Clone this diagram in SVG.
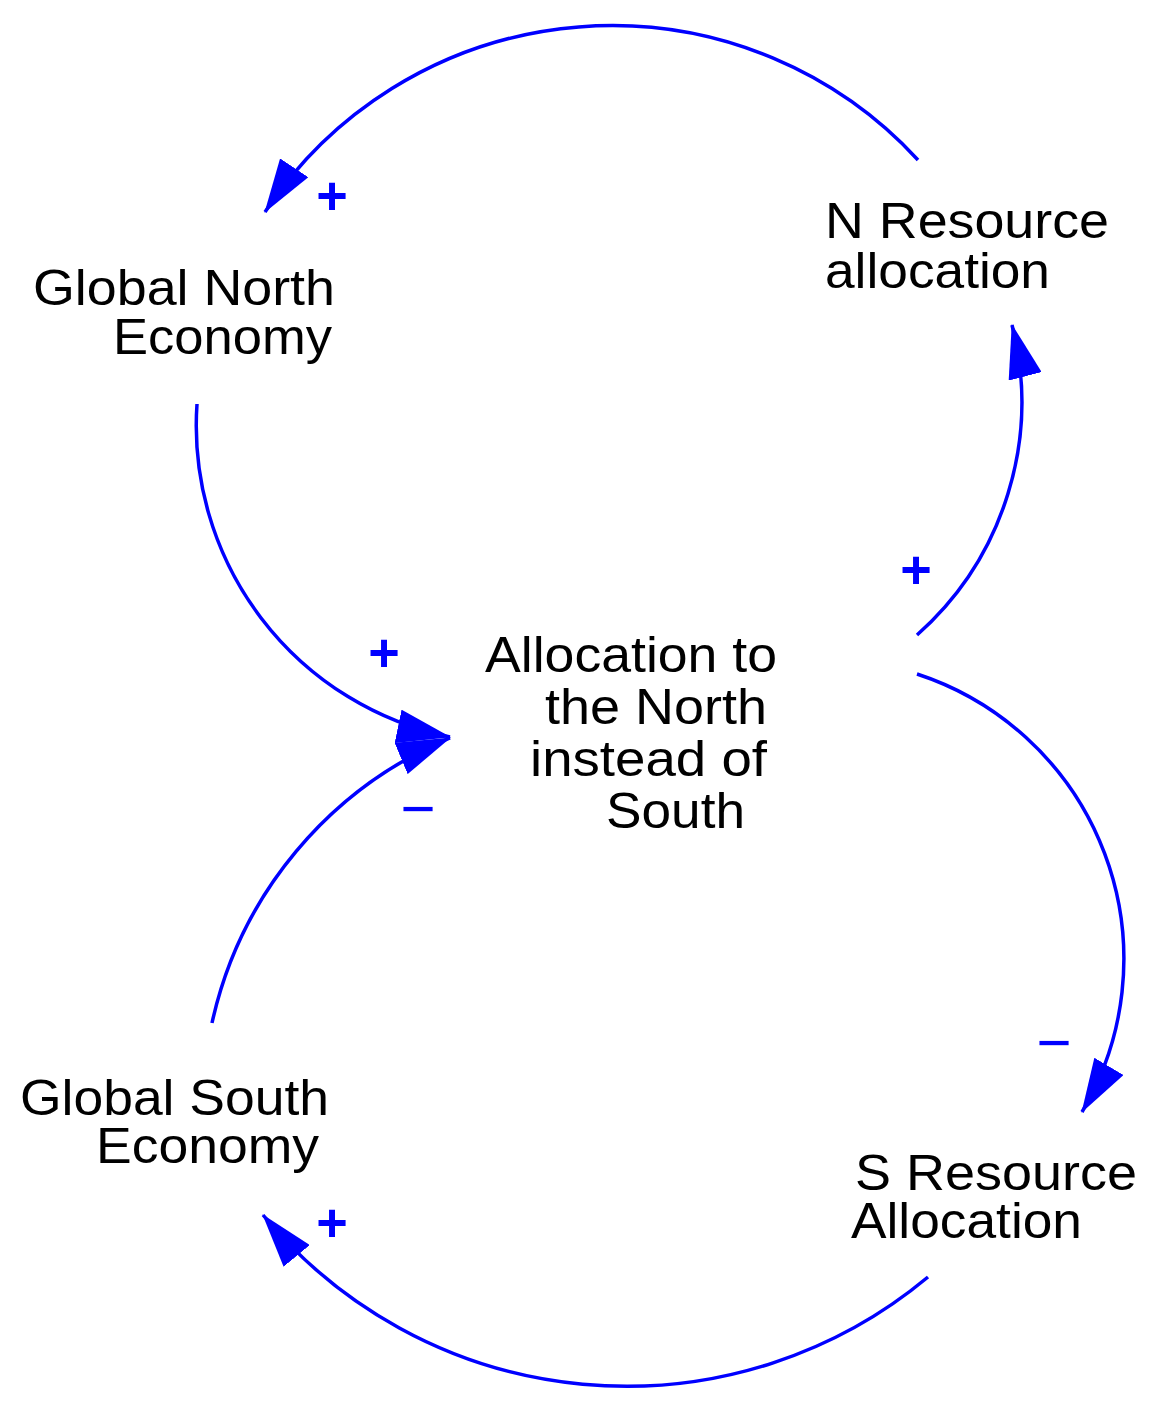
<svg xmlns="http://www.w3.org/2000/svg" width="1164" height="1415" viewBox="0 0 1164 1415">
<style>
.lbl{font-family:"Liberation Sans",Arial,sans-serif;font-size:50px;fill:#000}
.link{fill:none;stroke:#0000ff;stroke-width:3.5;marker-end:url(#ah)}
.plus{font-family:"Liberation Sans",Arial,sans-serif;font-size:54px;font-weight:bold;fill:#0000ff;text-anchor:middle}
.minus{font-family:"Liberation Sans",Arial,sans-serif;font-size:60px;fill:#0000ff;text-anchor:middle}
</style>
<defs>
<marker id="ah" markerUnits="userSpaceOnUse" viewBox="0 0 54 34" markerWidth="54" markerHeight="34" refX="53" refY="17" orient="auto">
<path d="M0,0 L54,17 L0,34 Z" fill="#0000ff"/>
</marker>
</defs>
<rect width="1164" height="1415" fill="#fff"/>
<g id="connectors">
<path class="link" d="M918 160 A416 416 0 0 0 265 212"/>
<path class="link" d="M197 404 A318 318 0 0 0 450 737"/>
<path class="link" d="M212 1023 A402 402 0 0 1 450 738"/>
<path class="link" d="M917 635 A311 311 0 0 0 1012 325"/>
<path class="link" d="M917 674 A300 300 0 0 1 1082 1112"/>
<path class="link" d="M928 1277 A471 471 0 0 1 263 1215"/>
</g>
<g id="polarities">
<text class="plus" x="332" y="214">+</text>
<text class="plus" x="384" y="671">+</text>
<text class="minus" x="418" y="829">−</text>
<text class="plus" x="916" y="588">+</text>
<text class="minus" x="1054" y="1063">−</text>
<text class="plus" x="332" y="1241">+</text>
</g>
<g id="global-north-economy">
<text class="lbl" x="33" y="305" textLength="302" lengthAdjust="spacingAndGlyphs">Global North</text>
<text class="lbl" x="113" y="354" textLength="219" lengthAdjust="spacingAndGlyphs">Economy</text>
</g>
<g id="n-resource-allocation">
<text class="lbl" x="825" y="238" textLength="284" lengthAdjust="spacingAndGlyphs">N Resource</text>
<text class="lbl" x="825" y="288" textLength="225" lengthAdjust="spacingAndGlyphs">allocation</text>
</g>
<g id="allocation-north">
<text class="lbl" x="485" y="672" textLength="292" lengthAdjust="spacingAndGlyphs">Allocation to</text>
<text class="lbl" x="545" y="724" textLength="222" lengthAdjust="spacingAndGlyphs">the North</text>
<text class="lbl" x="530" y="776" textLength="237" lengthAdjust="spacingAndGlyphs">instead of</text>
<text class="lbl" x="606" y="828" textLength="139" lengthAdjust="spacingAndGlyphs">South</text>
</g>
<g id="global-south-economy">
<text class="lbl" x="20" y="1115" textLength="309" lengthAdjust="spacingAndGlyphs">Global South</text>
<text class="lbl" x="96" y="1163" textLength="223" lengthAdjust="spacingAndGlyphs">Economy</text>
</g>
<g id="s-resource-allocation">
<text class="lbl" x="855" y="1190" textLength="282" lengthAdjust="spacingAndGlyphs">S Resource</text>
<text class="lbl" x="851" y="1238" textLength="231" lengthAdjust="spacingAndGlyphs">Allocation</text>
</g>
</svg>
